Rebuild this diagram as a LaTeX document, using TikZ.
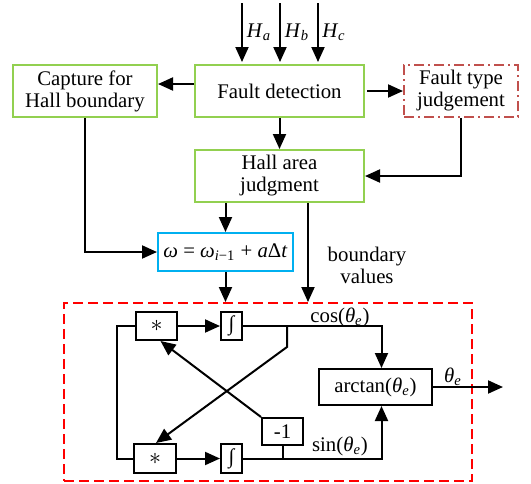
\documentclass[tikz,border=0pt]{standalone}
\usepackage{fontspec}
\setmainfont{Liberation Serif}
\usetikzlibrary{arrows.meta}
\definecolor{boxgreen}{RGB}{146,208,80}
\definecolor{ftred}{RGB}{192,80,77}
\definecolor{boxcyan}{RGB}{0,176,240}
\newcommand{\thte}{\textit{θ}\textsubscript{\textit{e}}}
\newcommand{\bigast}{\raisebox{-0.2ex}{\fontsize{13pt}{13pt}\selectfont$\ast$}}
\begin{document}
\begin{tikzpicture}[x=0.5pt,y=-0.5pt,
  every node/.style={font=\fontsize{10.4pt}{11pt}\selectfont},
  gbox/.style={draw=boxgreen, line width=1pt, align=center, inner sep=0pt},
  kbox/.style={draw=black, line width=1pt, inner sep=0pt},
  arr/.style={-{Triangle[length=7.5pt,width=6.5pt]}, line width=1pt},
  ln/.style={line width=1pt}]
\useasboundingbox (0,0) rectangle (531,483);

% top row
\node[gbox, minimum width=84.5pt, minimum height=26pt] (fd) at (279.5,91) {Fault detection};
\node[gbox, minimum width=72pt, minimum height=26pt] (cap) at (85,91) {Capture for\\Hall boundary};
\node[draw=ftred, line width=1pt, dash pattern=on 5pt off 2pt on 1pt off 2pt,
      minimum width=57pt, minimum height=26pt, align=center, inner sep=0pt] (ft) at (461,91) {Fault type\\judgement};
\node[gbox, minimum width=84.5pt, minimum height=26pt] (ha) at (279.5,176) {Hall area\\judgment};
\node[draw=boxcyan, line width=1pt, minimum width=67.5pt, minimum height=19pt, inner sep=0pt] (om) at (225.5,252)
  {\textit{ω} = \textit{ω}\textsubscript{\textit{i}−1} + \textit{a}Δ\textit{t}};
\node[draw=red, line width=1pt, dash pattern=on 5pt off 2.5pt, minimum width=204pt, minimum height=89pt, inner sep=0pt] (blk) at (268,392) {};

% inputs
\coordinate (ina) at (242,3);
\coordinate (inb) at (280,3);
\coordinate (inc) at (318,3);
\draw[arr] (ina) -- ([yshift=1pt]ina |- fd.north);
\draw[arr] (inb) -- ([yshift=1pt]inb |- fd.north);
\draw[arr] (inc) -- ([yshift=1pt]inc |- fd.north);
\node (la) at (259,32) {\textit{H}\textsubscript{\textit{a}}};
\node (lb) at (297,32) {\textit{H}\textsubscript{\textit{b}}};
\node (lc) at (334,32) {\textit{H}\textsubscript{\textit{c}}};

% top connections
\draw[arr] ([yshift=3.5pt]fd.west) -- ([yshift=3.5pt]fd.west -| cap.east);
\draw[arr] ([xshift=1pt]fd.east) -- (ft.west);
\draw[arr] (fd.south) -- (ha.north);
\draw[arr] (ft.south) |- (ha.east);
\draw[arr] (cap.south) |- (om.west);
\draw[arr] (om.north |- ha.south) -- (om.north);
\draw[arr] (om.south) -- (om.south |- blk.north);
\coordinate (bv) at (308,0);
\draw[arr] (ha.south -| bv) -- (blk.north -| bv);
\node[align=center] (bvl) at (367,265) {boundary\\values};

% inner block
\node[kbox, minimum width=20.5pt, minimum height=14pt] (m1) at (156.5,326) {\bigast};
\node[kbox, minimum width=10.5pt, minimum height=14pt] (i1) at (231.5,326) {∫};
\node[kbox, minimum width=21pt, minimum height=14.5pt] (m2) at (155,458.5) {\bigast};
\node[kbox, minimum width=10.5pt, minimum height=14.5pt] (i2) at (231.5,458.5) {∫};
\node[kbox, minimum width=56.5pt, minimum height=18pt] (at) at (375.5,387) {arctan(\thte)};
\node[kbox, minimum width=20.5pt, minimum height=13.5pt] (neg) at (282.5,431.5) {-1};

\draw[arr] (m1.east) -- (i1.west);
\draw[arr] (m2.east) -- (i2.west);
\draw[arr] (i1.east) -| ([xshift=3pt]at.north);
\draw[arr] (i2.east) -| ([xshift=3pt]at.south);
\node (cosl) at (340,317) {cos(\thte)};
\node (sinl) at (340,446) {sin(\thte)};

\coordinate (br) at (287,326);
\draw[arr] (br) -- ++(0,21) -- ([xshift=0.5pt]m2.north);
\draw[arr] (neg.north west) -- ([xshift=2pt]m1.south);
\draw[ln] (neg.south) -- (neg.south |- i2.east);
\draw[ln] (m1.west) -- ++(-9pt,0) |- (m2.west);

\coordinate (out) at (503,387);
\draw[arr] (at.east) -- (out);
\node (thl) at (453,377) {\thte};
\end{tikzpicture}
\end{document}
